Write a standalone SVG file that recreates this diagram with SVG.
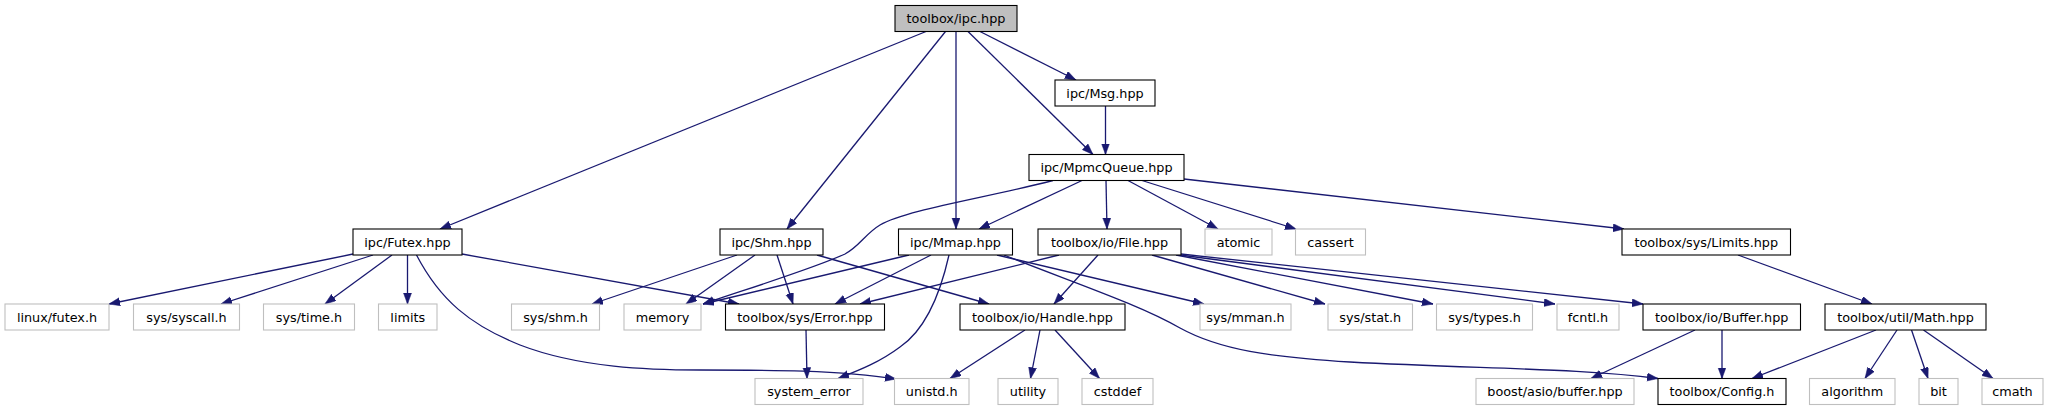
<svg xmlns="http://www.w3.org/2000/svg" width="2053" height="411" viewBox="0 0 2053 411">
<style>
.node rect{fill:#ffffff;stroke:#000000;stroke-width:1.1}
.node.g rect{stroke:#bfbfbf}
.node.root rect{fill:#bfbfbf}
.node text{font-family:"DejaVu Sans","Liberation Sans",sans-serif;font-size:12.8px;text-anchor:middle;fill:#000}
#edges path{fill:none;stroke:#191970;stroke-width:1.3;marker-end:url(#arr)}
</style>
<defs>
<marker id="arr" markerUnits="userSpaceOnUse" markerWidth="12" markerHeight="9" refX="11" refY="4" orient="auto">
<path d="M0,0 L11,4 L0,8 z" fill="#191970" stroke="#191970" stroke-width="0.5"/>
</marker>
</defs>
<rect width="2053" height="411" fill="#ffffff"/>
<g id="edges">
<path d="M926,31.5 L440,229"/>
<path d="M945.5,31.5 L787,229"/>
<path d="M956,31.5 L956,229"/>
<path d="M968,31.5 L1093,154.5"/>
<path d="M980,31.5 L1076,80"/>
<path d="M1105.5,106 L1105.5,154.5"/>
<path d="M1053,180.5 C985,198 905,210 880,225 C865,234 860,246 845,254 C815,268 750,288 703,304"/>
<path d="M1082,180.5 L979,229"/>
<path d="M1106,180.5 L1107,229"/>
<path d="M1128,180.5 L1218,229"/>
<path d="M1142,180.5 L1296,229"/>
<path d="M1184,179 L1624,229"/>
<path d="M353,254 L109,304"/>
<path d="M373,255 L221,304"/>
<path d="M392,255 L325,304"/>
<path d="M407.5,255 L407.5,304"/>
<path d="M416.5,255 C440,300 470,325 520,345 C580,368 650,370 700,370 C770,370 840,370 896,379"/>
<path d="M462,254 L739,304"/>
<path d="M737,255 L592,304"/>
<path d="M755,255 L686,304"/>
<path d="M777,255 L793,304"/>
<path d="M817,255 L989,304"/>
<path d="M909,255 L703,304"/>
<path d="M931,255 L835,304"/>
<path d="M949,255 C940,295 925,330 900,347 C880,362 860,370 838,378.5"/>
<path d="M997,255 L1204,304"/>
<path d="M1004,255 C1080,285 1140,305 1180,328 C1220,350 1270,357 1350,362 C1480,369 1580,368 1658,378.5"/>
<path d="M1059,255 L860,304"/>
<path d="M1098,255 L1054,304"/>
<path d="M1152,255 L1325,304"/>
<path d="M1176,255 L1433,304"/>
<path d="M1180,255 L1555,304"/>
<path d="M1181,254 L1643,304"/>
<path d="M1738,255 L1872,304"/>
<path d="M806,330 L807,378.5"/>
<path d="M1025,330 L950,378.5"/>
<path d="M1040,330 L1030.5,378.5"/>
<path d="M1055,330 L1099.5,378.5"/>
<path d="M1695,330 L1591,378.5"/>
<path d="M1722,330 L1722,378.5"/>
<path d="M1876,330 L1752,378.5"/>
<path d="M1897,330 L1865,378.5"/>
<path d="M1911.5,330 L1928,378.5"/>
<path d="M1923.5,330 L1993,378.5"/>
</g>
<g id="n_ipc" class="node root"><rect x="895" y="5.5" width="122" height="26"/><text x="956" y="23">toolbox/ipc.hpp</text></g>
<g id="n_msg" class="node"><rect x="1055" y="80" width="100" height="26"/><text x="1105" y="97.5">ipc/Msg.hpp</text></g>
<g id="n_mpmc" class="node"><rect x="1029" y="154.5" width="155" height="26"/><text x="1106.5" y="172">ipc/MpmcQueue.hpp</text></g>
<g id="n_futex" class="node"><rect x="353" y="229" width="109" height="26"/><text x="407.5" y="246.5">ipc/Futex.hpp</text></g>
<g id="n_shm" class="node"><rect x="720" y="229" width="103" height="26"/><text x="771.5" y="246.5">ipc/Shm.hpp</text></g>
<g id="n_mmap" class="node"><rect x="898.5" y="229" width="114" height="26"/><text x="955.5" y="246.5">ipc/Mmap.hpp</text></g>
<g id="n_file" class="node"><rect x="1038" y="229" width="143" height="26"/><text x="1109.5" y="246.5">toolbox/io/File.hpp</text></g>
<g id="n_atomic" class="node g"><rect x="1205" y="229" width="67" height="26"/><text x="1238.5" y="246.5">atomic</text></g>
<g id="n_cassert" class="node g"><rect x="1295.5" y="229" width="70" height="26"/><text x="1330.5" y="246.5">cassert</text></g>
<g id="n_limitshpp" class="node"><rect x="1622" y="229" width="168.5" height="26"/><text x="1706.25" y="246.5">toolbox/sys/Limits.hpp</text></g>
<g id="n_linuxfutex" class="node g"><rect x="5" y="304" width="104" height="26"/><text x="57" y="321.5">linux/futex.h</text></g>
<g id="n_syscall" class="node g"><rect x="133.5" y="304" width="106" height="26"/><text x="186.5" y="321.5">sys/syscall.h</text></g>
<g id="n_systime" class="node g"><rect x="263.5" y="304" width="91" height="26"/><text x="309" y="321.5">sys/time.h</text></g>
<g id="n_limits" class="node g"><rect x="378.5" y="304" width="58.5" height="26"/><text x="407.75" y="321.5">limits</text></g>
<g id="n_sysshm" class="node g"><rect x="511.5" y="304" width="88" height="26"/><text x="555.5" y="321.5">sys/shm.h</text></g>
<g id="n_memory" class="node g"><rect x="624" y="304" width="77" height="26"/><text x="662.5" y="321.5">memory</text></g>
<g id="n_error" class="node"><rect x="725.5" y="304" width="159" height="26"/><text x="805" y="321.5">toolbox/sys/Error.hpp</text></g>
<g id="n_handle" class="node"><rect x="960" y="304" width="165" height="26"/><text x="1042.5" y="321.5">toolbox/io/Handle.hpp</text></g>
<g id="n_sysmman" class="node g"><rect x="1200" y="304" width="91" height="26"/><text x="1245.5" y="321.5">sys/mman.h</text></g>
<g id="n_sysstat" class="node g"><rect x="1328" y="304" width="84.5" height="26"/><text x="1370.25" y="321.5">sys/stat.h</text></g>
<g id="n_systypes" class="node g"><rect x="1436.5" y="304" width="96" height="26"/><text x="1484.5" y="321.5">sys/types.h</text></g>
<g id="n_fcntl" class="node g"><rect x="1557" y="304" width="62" height="26"/><text x="1588" y="321.5">fcntl.h</text></g>
<g id="n_buffer" class="node"><rect x="1643" y="304" width="157.5" height="26"/><text x="1721.75" y="321.5">toolbox/io/Buffer.hpp</text></g>
<g id="n_math" class="node"><rect x="1825" y="304" width="161" height="26"/><text x="1905.5" y="321.5">toolbox/util/Math.hpp</text></g>
<g id="n_syserror" class="node g"><rect x="755" y="378.5" width="108" height="26"/><text x="809" y="396">system_error</text></g>
<g id="n_unistd" class="node g"><rect x="894.5" y="378.5" width="74.5" height="26"/><text x="931.75" y="396">unistd.h</text></g>
<g id="n_utility" class="node g"><rect x="998" y="378.5" width="60" height="26"/><text x="1028" y="396">utility</text></g>
<g id="n_cstddef" class="node g"><rect x="1082" y="378.5" width="71" height="26"/><text x="1117.5" y="396">cstddef</text></g>
<g id="n_boost" class="node g"><rect x="1476" y="378.5" width="158" height="26"/><text x="1555" y="396">boost/asio/buffer.hpp</text></g>
<g id="n_config" class="node"><rect x="1658" y="378.5" width="128" height="26"/><text x="1722" y="396">toolbox/Config.h</text></g>
<g id="n_algorithm" class="node g"><rect x="1809.5" y="378.5" width="85.5" height="26"/><text x="1852.25" y="396">algorithm</text></g>
<g id="n_bit" class="node g"><rect x="1919" y="378.5" width="39" height="26"/><text x="1938.5" y="396">bit</text></g>
<g id="n_cmath" class="node g"><rect x="1982" y="378.5" width="61" height="26"/><text x="2012.5" y="396">cmath</text></g>
</svg>
